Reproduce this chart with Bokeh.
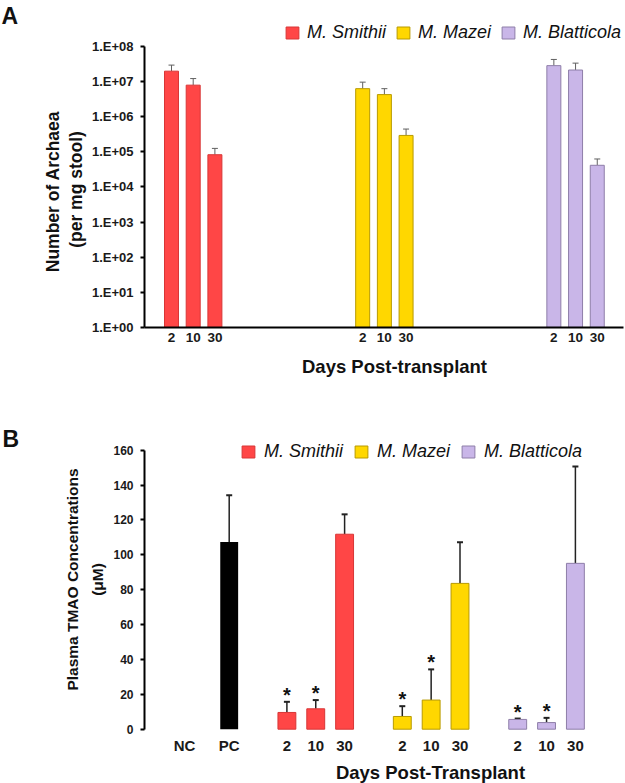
import math
from bokeh.plotting import figure
from bokeh.models import (Range1d, ColumnDataSource, Whisker, TeeHead, FixedTicker,
                          CustomJSTickFormatter, Label, Legend, LegendItem)
from bokeh.layouts import column
from bokeh.core.properties import value
from bokeh.embed import file_html
from bokeh.resources import INLINE

FONT = "Liberation Sans"

# ---------------- data ----------------
species = ["M. Smithii", "M. Mazei", "M. Blatticola"]
days = ["2", "10", "30"]

# Panel A: archaea per mg stool (mean and upper SD)
archaea_smithii = [1.95e7, 7.8e6, 8.2e4]
archaea_smithii_sd = [9.5e6, 4.2e6, 4.2e4]
archaea_mazei = [6.2e6, 4.2e6, 2.9e5]
archaea_mazei_sd = [3.3e6, 2.0e6, 1.5e5]
archaea_blatticola = [2.8e7, 2.1e7, 4.1e4]
archaea_blatticola_sd = [1.4e7, 1.2e7, 2.1e4]
ytick_labels_A = ["1.E+00", "1.E+01", "1.E+02", "1.E+03", "1.E+04",
                  "1.E+05", "1.E+06", "1.E+07", "1.E+08"]

# Panel B: plasma TMAO (uM)
controls = ["NC", "PC"]
tmao_controls = [0.0, 107.3]
tmao_controls_sd = [0.0, 26.9]
tmao_smithii = [9.6, 11.7, 111.8]
tmao_smithii_sd = [6.1, 5.0, 11.4]
tmao_mazei = [7.3, 16.7, 83.6]
tmao_mazei_sd = [5.9, 17.6, 23.6]
tmao_blatticola = [5.6, 3.8, 95.1]
tmao_blatticola_sd = [0.5, 2.7, 55.5]
significant = [True, True, False]   # * on days 2 and 10 for each species
yticks_B = [0, 20, 40, 60, 80, 100, 120, 140, 160]

fills = ["#FF4646", "#FFD700", "#C9B6E8"]
lines = ["#D83636", "#B89A00", "#8E7EA8"]

archaea = [archaea_smithii, archaea_mazei, archaea_blatticola]
archaea_sd = [archaea_smithii_sd, archaea_mazei_sd, archaea_blatticola_sd]
tmao = [tmao_smithii, tmao_mazei, tmao_blatticola]
tmao_sd = [tmao_smithii_sd, tmao_mazei_sd, tmao_blatticola_sd]


def style_text_axis(ax, size):
    ax.major_label_text_font = FONT
    ax.major_label_text_font_style = "bold"
    ax.major_label_text_font_size = size
    ax.major_label_text_color = "#1a1a1a"
    ax.minor_tick_line_color = None


def add_label(p, x, y, text, size, style="bold", angle=0.0, align="center"):
    p.add_layout(Label(x=x, y=y, text=text, text_font=FONT, text_font_size=size,
                       text_font_style=style, text_align=align, text_baseline="middle",
                       angle=angle, text_color="#111111"))


def make_legend(p, renderers, vx, vy, standoff, spacing):
    items = [LegendItem(label=name, renderers=[r]) for name, r in zip(species, renderers)]
    leg = Legend(items=items, location=(vx, vy), orientation="horizontal",
                 label_text_font=FONT, label_text_font_style="italic",
                 label_text_font_size="18px", label_text_color="#111111",
                 glyph_width=16, glyph_height=15, label_standoff=standoff,
                 spacing=spacing, padding=0, margin=0, border_line_color=None,
                 background_fill_alpha=0)
    p.add_layout(leg, "center")


def add_whiskers(p, src, color, width, head_width):
    p.add_layout(Whisker(source=src, base="x", upper="upper", lower="lower",
                         line_color=color, line_width=width,
                         upper_head=TeeHead(size=6, line_color=color, line_width=head_width),
                         lower_head=None))


# ================= Panel A =================
WA, HA = 625, 390
GAP_A = 8.81        # group spacing in slot units
PXA = 21.7          # px per slot unit
DEC = 35.16         # px per decade

def ax_px(px):      # canvas px -> data x (panel A)
    return (px - 171.0) / PXA

def ay_px(py):      # canvas px -> data y (panel A)
    return 10 ** (8 - (py - 45.7) / DEC)

pA = figure(width=WA, height=HA, output_backend="svg", toolbar_location=None,
            x_range=Range1d(ax_px(0), ax_px(WA)),
            y_range=Range1d(ay_px(HA), ay_px(0)), y_axis_type="log",
            min_border=0)
pA.outline_line_color = None
pA.grid.visible = False

xpos_A = []
xlab_A = []
bars_A = []
for g, name in enumerate(species):
    xs = [g * GAP_A + i for i in range(len(days))]
    xpos_A += xs
    xlab_A += days
    vals = archaea[g]
    sds = archaea_sd[g]
    src = ColumnDataSource(dict(x=xs, top=vals, lower=vals,
                                upper=[v + e for v, e in zip(vals, sds)]))
    r = pA.vbar(x="x", top="top", bottom=1, width=0.645, source=src,
                fill_color=fills[g], line_color=lines[g], line_width=1)
    bars_A.append(r)
    add_whiskers(pA, src, "#606060", 1, 1)

yA = pA.yaxis[0]
yA.fixed_location = ax_px(144)
yA.ticker = FixedTicker(ticks=[10 ** k for k in range(len(ytick_labels_A))])
yA.formatter = CustomJSTickFormatter(args=dict(labels=ytick_labels_A),
                                     code="return labels[Math.round(Math.log10(tick))];")
yA.bounds = (1, 1e8)
yA.axis_line_width = 2
yA.axis_line_color = "black"
yA.major_tick_out = 4
yA.major_tick_in = 0
yA.major_tick_line_width = 2
yA.major_label_standoff = 7
style_text_axis(yA, "13px")

xA = pA.xaxis[0]
xA.fixed_location = 1
xA.bounds = (ax_px(144), ax_px(623))
xA.ticker = FixedTicker(ticks=xpos_A)
xA.formatter = CustomJSTickFormatter(args=dict(pos=xpos_A, labels=xlab_A), code="""
for (let i = 0; i < pos.length; i++) { if (Math.abs(pos[i] - tick) < 1e-6) return labels[i]; }
return "";""")
xA.axis_line_width = 2
xA.axis_line_color = "black"
xA.major_tick_out = 0
xA.major_tick_in = 0
xA.major_label_standoff = 6
style_text_axis(xA, "13.5px")

make_legend(pA, bars_A, 284, HA - 42.5, 7, 9)

add_label(pA, ax_px(1), ay_px(15), "A", "23px", align="left")
add_label(pA, ax_px(52), ay_px(191), "Number of Archaea", "17.5px", angle=math.pi / 2)
add_label(pA, ax_px(75), ay_px(189), "(per mg stool)", "17.5px", angle=math.pi / 2)
add_label(pA, ax_px(394), ay_px(366), "Days Post-transplant", "18.5px")

# ================= Panel B =================
WB, HB = 625, 393
TOPB = HA            # page y of the top of figure B
PXB = 28.85          # px per slot unit
PYB = 1.744          # px per uM

def bx_px(px):
    return (px - 228.7) / PXB

def by_px(py):       # page px -> data y (panel B)
    return (728.7 - py) / PYB

pB = figure(width=WB, height=HB, output_backend="svg", toolbar_location=None,
            x_range=Range1d(bx_px(0), bx_px(WB)),
            y_range=Range1d(by_px(TOPB + HB), by_px(TOPB)),
            min_border=0)
pB.outline_line_color = None
pB.grid.visible = False

ctrl_x = [-1.55, 0.0]
xpos_B = list(ctrl_x)
xlab_B = list(controls)
src_c = ColumnDataSource(dict(x=ctrl_x, top=tmao_controls))
pB.vbar(x="x", top="top", bottom=0, width=0.62, source=src_c,
        fill_color="black", line_color=None)
err_c = ColumnDataSource(dict(
    x=[x for x, e in zip(ctrl_x, tmao_controls_sd) if e > 0],
    lower=[v for v, e in zip(tmao_controls, tmao_controls_sd) if e > 0],
    upper=[v + e for v, e in zip(tmao_controls, tmao_controls_sd) if e > 0]))
add_whiskers(pB, err_c, "#222222", 1.5, 2)

star_x, star_y = [], []
bars_B = []
for g, name in enumerate(species):
    xs = [2 + 4 * g + i for i in range(len(days))]
    xpos_B += xs
    xlab_B += days
    vals = tmao[g]
    sds = tmao_sd[g]
    ups = [v + e for v, e in zip(vals, sds)]
    src = ColumnDataSource(dict(x=xs, top=vals, lower=vals, upper=ups))
    r = pB.vbar(x="x", top="top", bottom=0, width=0.62, source=src,
                fill_color=fills[g], line_color=lines[g], line_width=1)
    bars_B.append(r)
    add_whiskers(pB, src, "#222222", 1.5, 2)
    for i, s in enumerate(significant):
        if s:
            star_x.append(xs[i])
            star_y.append(ups[i])

pB.text(x=star_x, y=star_y, text=["*"] * len(star_x), text_font=value(FONT),
        text_font_size="20px", text_font_style="bold", text_align="center",
        text_baseline="middle", y_offset=-7, text_color="#111111")

yB = pB.yaxis[0]
yB.fixed_location = bx_px(144)
yB.ticker = FixedTicker(ticks=yticks_B)
yB.bounds = (yticks_B[0], yticks_B[-1])
yB.axis_line_width = 2
yB.axis_line_color = "black"
yB.major_tick_out = 4
yB.major_tick_in = 0
yB.major_tick_line_width = 2
yB.major_label_standoff = 7
style_text_axis(yB, "12px")

xB = pB.xaxis[0]
xB.fixed_location = 0
xB.ticker = FixedTicker(ticks=xpos_B)
xB.formatter = CustomJSTickFormatter(args=dict(pos=xpos_B, labels=xlab_B), code="""
for (let i = 0; i < pos.length; i++) { if (Math.abs(pos[i] - tick) < 1e-6) return labels[i]; }
return "";""")
xB.axis_line_color = None
xB.major_tick_out = 0
xB.major_tick_in = 0
xB.major_label_standoff = 8
style_text_axis(xB, "15px")

make_legend(pB, bars_B, 240, HB - 71.5, 8, 10)

add_label(pB, bx_px(2), by_px(438), "B", "23px", align="left")
add_label(pB, bx_px(71.7), by_px(579), "Plasma TMAO Concentrations", "15.5px", angle=math.pi / 2)
add_label(pB, bx_px(96.7), by_px(579), "(\u03bcM)", "15.5px", angle=math.pi / 2)
add_label(pB, bx_px(430), by_px(771.7), "Days Post-Transplant", "18.5px")

layout = column(pA, pB, spacing=0)
open("out.html", "w").write(file_html(layout, INLINE))
